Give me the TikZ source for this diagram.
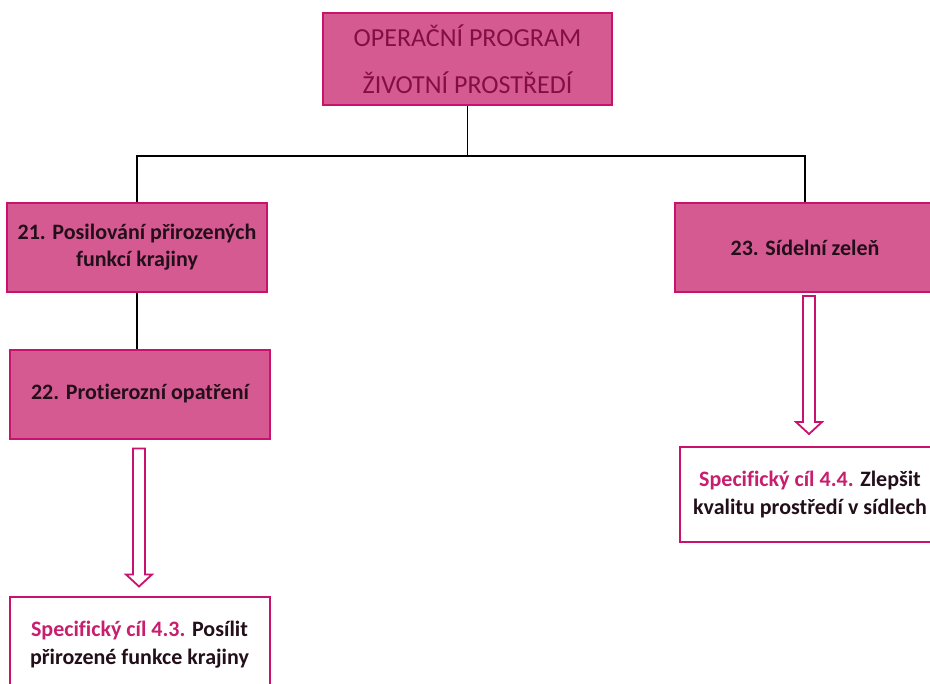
\documentclass[tikz,border=0pt]{standalone}
\usepackage{fontspec}
\setmainfont[Ligatures=CommonOff]{Carlito}
\usepackage{tikz}
\usetikzlibrary{calc}

\definecolor{opfill}{RGB}{214,90,146}
\definecolor{opborder}{RGB}{200,18,110}
\definecolor{optext}{RGB}{130,15,68}
\definecolor{goaltext}{RGB}{200,30,110}
\definecolor{darktext}{RGB}{35,15,25}

\begin{document}
\begin{tikzpicture}[x=0.5pt, y=-0.5pt,
    opbox/.style={draw=opborder, line width=1pt, fill=opfill, text=optext, align=center,
        minimum width=144.5pt, minimum height=46pt, inner sep=0pt,
        font=\fontsize{13}{23.5}\selectfont},
    areabox/.style={draw=opborder, line width=1pt, fill=opfill, text=darktext, align=center,
        minimum width=130pt, minimum height=44.5pt, inner sep=0pt,
        font=\fontsize{11}{13.5}\selectfont\bfseries},
    goalbox/.style={draw=opborder, line width=1pt, fill=white, text=darktext, align=center,
        minimum width=130pt, minimum height=47.5pt, inner sep=0pt,
        font=\fontsize{11}{14}\selectfont\bfseries},
    hollow/.style={draw=opborder, line width=0.9pt, fill=white, line join=miter},
    link/.style={draw=black, line width=0.6pt}]

    \useasboundingbox (0,0) rectangle (930,684);
    \clip (0,0) rectangle (930,684);

    % Programme and its areas
    \node[opbox] (op) at (467.5,59) {OPERAČNÍ PROGRAM\\ŽIVOTNÍ PROSTŘEDÍ};

    \node[areabox] (b21) at (137,247.5) {21. Posilování přirozených\\funkcí krajiny};
    \node[areabox] (b22) at (140,394) {22. Protierozní opatření};
    \node[areabox] (b23) at (805,247.5) {23. Sídelní zeleň};

    % Specific goals
    \node[goalbox] (b43) at (139.5,644.5) {\textcolor{goaltext}{Specifický cíl 4.3.} Posílit\\přirozené funkce krajiny};
    \node[goalbox] (b44) at (810,494.5) {\textcolor{goaltext}{Specifický cíl 4.4.} Zlepšit\\kvalitu prostředí v sídlech};

    % Tree connections
    \coordinate (split) at ($(op.south)+(0,50)$);
    \draw[link] (op.south) -- (split);
    \draw[link] (split) -| (b21.north);
    \draw[link] (split) -| (b23.north);
    \draw[link] (b21.south) -- (b21.south |- b22.north);

    % Hollow arrows to the goals
    \draw[hollow] ($(b22.south)+(-7,9)$) -- ++(0,126) -- ++(-7,0) -- ++(13,12)
        -- ++(13,-12) -- ++(-7,0) -- ++(0,-126) -- cycle;
    \draw[hollow] ($(b23.south)+(-2,3)$) -- ++(0,126) -- ++(-7,0) -- ++(13,12)
        -- ++(13,-12) -- ++(-7,0) -- ++(0,-126) -- cycle;

\end{tikzpicture}
\end{document}
